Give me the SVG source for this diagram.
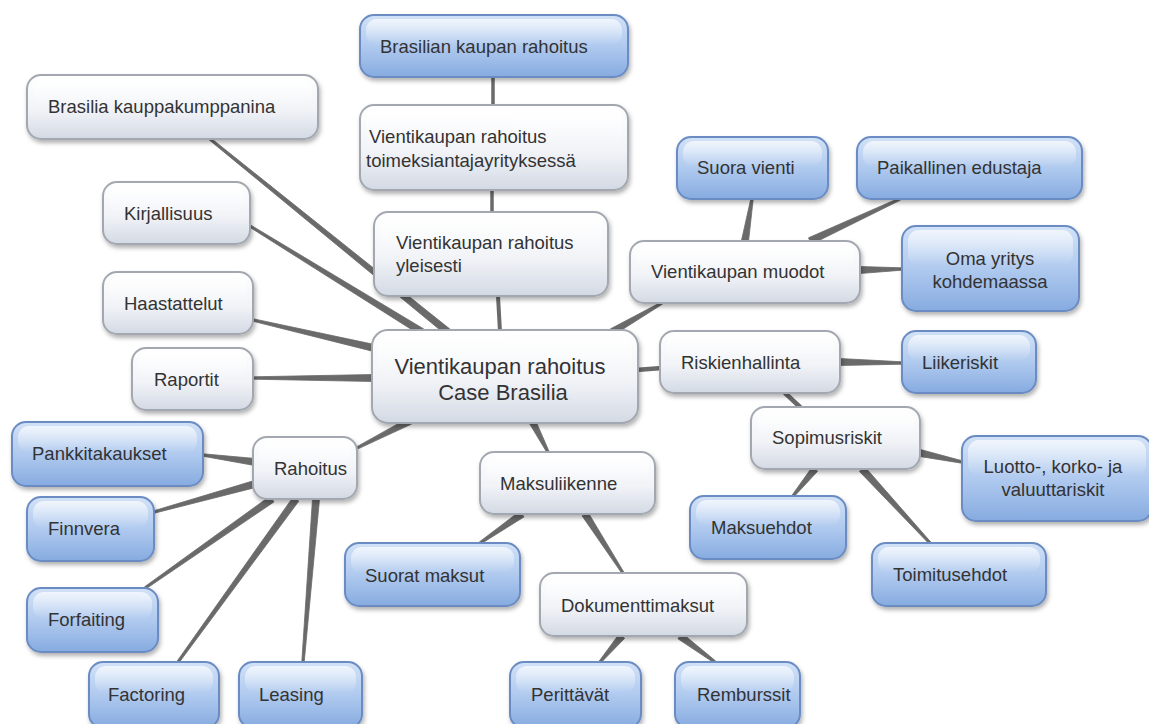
<svg xmlns="http://www.w3.org/2000/svg" width="1149" height="724" viewBox="0 0 1149 724">
<defs>
<linearGradient id="gw" x1="0" y1="0" x2="0" y2="1">
<stop offset="0" stop-color="#ffffff"/><stop offset="0.55" stop-color="#f1f3f7"/><stop offset="1" stop-color="#d3d9e4"/>
</linearGradient>
<linearGradient id="gb" x1="0" y1="0" x2="0" y2="1">
<stop offset="0" stop-color="#d2e2f7"/><stop offset="0.5" stop-color="#b0caef"/><stop offset="1" stop-color="#86abe0"/>
</linearGradient>
<linearGradient id="gh" x1="0" y1="0" x2="0" y2="1">
<stop offset="0" stop-color="#ffffff" stop-opacity="0.7"/><stop offset="1" stop-color="#ffffff" stop-opacity="0"/>
</linearGradient>
<filter id="sh" x="-10%" y="-10%" width="125%" height="135%">
<feDropShadow dx="1.5" dy="3" stdDeviation="2" flood-color="#000" flood-opacity="0.3"/>
</filter>
<style>
.w{fill:url(#gw);stroke:#a3a8b0;stroke-width:2;filter:url(#sh)}
.b{fill:url(#gb);stroke:#6a8cc2;stroke-width:2;filter:url(#sh)}
.h{fill:url(#gh);stroke:none}
.t{font-family:"Liberation Sans",Arial,sans-serif;font-size:18.5px;fill:#333}
.tc{font-family:"Liberation Sans",Arial,sans-serif;font-size:22px;fill:#333;text-anchor:middle}
.m{text-anchor:middle}
.c line{stroke:#6a6a6a;stroke-width:4;stroke-linecap:round}
.c polygon{fill:#6a6a6a;stroke:#6a6a6a;stroke-width:0.8;stroke-linejoin:round}
</style>
</defs>
<rect width="1149" height="724" fill="#ffffff"/>
<g id="connectors" class="c">
<line x1="493" y1="77" x2="493" y2="105" style="stroke-width:3.5"/>
<line x1="492" y1="190" x2="492" y2="212" style="stroke-width:3.5"/>
<line x1="498" y1="296" x2="500" y2="332" style="stroke-width:4"/>
<polygon points="450.2,329.3 210.8,138.1 209.2,139.9 445.8,334.7"/>
<polygon points="423.8,329.0 250.6,225.0 249.4,227.0 420.2,335.0"/>
<polygon points="374.8,344.6 253.3,318.8 252.7,321.2 373.2,351.4"/>
<polygon points="374,374.5 253,376.8 253,379.2 374,381.5"/>
<polygon points="613.8,335.0 662.6,304.0 661.4,302.0 610.2,329.0"/>
<line x1="662" y1="368" x2="636" y2="370" style="stroke-width:4.5"/>
<polygon points="408.4,417.9 356.5,446.9 357.5,449.1 411.6,424.1"/>
<polygon points="528.9,422.6 546.9,452.5 549.1,451.5 535.1,419.4"/>
<polygon points="748.5,241.6 753.2,199.2 750.8,198.8 741.5,240.4"/>
<polygon points="811.5,244.2 900.5,200.1 899.5,197.9 808.5,237.8"/>
<polygon points="860,266.5 902,267.8 902,270.2 860,273.5"/>
<polygon points="840,358.5 902,361.8 902,364.2 840,365.5"/>
<line x1="785" y1="393" x2="800" y2="407" style="stroke-width:4.5"/>
<polygon points="919.3,456.4 961.7,463.2 962.3,460.8 920.7,449.6"/>
<polygon points="812.3,466.8 792.1,495.2 793.9,496.8 817.7,471.2"/>
<polygon points="859.4,471.4 929.1,543.8 930.9,542.2 864.6,466.6"/>
<polygon points="255.5,458.5 203.2,453.8 202.8,456.2 254.5,465.5"/>
<polygon points="254.1,480.6 153.7,510.8 154.3,513.2 255.9,487.4"/>
<polygon points="270.0,496.1 144.3,587.0 145.7,589.0 274.0,501.9"/>
<polygon points="293.2,496.9 177.0,661.3 179.0,662.7 298.8,501.1"/>
<polygon points="312.5,498.7 301.8,661.9 304.2,662.1 319.5,499.3"/>
<polygon points="520.0,511.1 479.3,542.0 480.7,544.0 524.0,516.9"/>
<polygon points="582.1,515.9 622.0,573.6 624.0,572.4 587.9,512.1"/>
<polygon points="619.3,633.7 599.1,661.2 600.9,662.8 624.7,638.3"/>
<polygon points="677.9,638.8 714.3,663.0 715.7,661.0 682.1,633.2"/>
</g>
<g id="n-brasilian"><rect class="b" x="360" y="15" width="268" height="62" rx="14"/><rect class="h" x="366" y="19" width="256" height="26" rx="11"/><text class="t" x="380" y="53">Brasilian kaupan rahoitus</text></g>
<g id="n-kauppakumppanina"><rect class="w" x="27" y="75" width="291" height="64" rx="14"/><rect class="h" x="33" y="79" width="279" height="27" rx="11"/><text class="t" x="48" y="113">Brasilia kauppakumppanina</text></g>
<g id="n-toimeksianto"><rect class="w" x="360" y="105" width="268" height="85" rx="14"/><rect class="h" x="366" y="109" width="256" height="36" rx="11"/><text class="t" x="369" y="143">Vientikaupan rahoitus</text><text class="t" x="366" y="167">toimeksiantajayrityksessä</text></g>
<g id="n-kirjallisuus"><rect class="w" x="103" y="182" width="147" height="62" rx="14"/><rect class="h" x="109" y="186" width="135" height="26" rx="11"/><text class="t" x="124" y="220">Kirjallisuus</text></g>
<g id="n-yleisesti"><rect class="w" x="374" y="212" width="234" height="84" rx="14"/><rect class="h" x="380" y="216" width="222" height="36" rx="11"/><text class="t" x="396" y="249">Vientikaupan rahoitus</text><text class="t" x="396" y="272">yleisesti</text></g>
<g id="n-haastattelut"><rect class="w" x="103" y="272" width="150" height="62" rx="14"/><rect class="h" x="109" y="276" width="138" height="26" rx="11"/><text class="t" x="124" y="310">Haastattelut</text></g>
<g id="n-raportit"><rect class="w" x="132" y="348" width="121" height="62" rx="14"/><rect class="h" x="138" y="352" width="109" height="26" rx="11"/><text class="t" x="154" y="386">Raportit</text></g>
<g id="n-central"><rect class="w" x="372" y="330" width="266" height="93" rx="16"/><rect class="h" x="378" y="334" width="254" height="40" rx="12"/><text class="tc" x="500" y="374">Vientikaupan rahoitus</text><text class="tc" x="503" y="400">Case Brasilia</text></g>
<g id="n-muodot"><rect class="w" x="630" y="241" width="230" height="62" rx="14"/><rect class="h" x="636" y="245" width="218" height="26" rx="11"/><text class="t" x="651" y="278">Vientikaupan muodot</text></g>
<g id="n-suora"><rect class="b" x="677" y="137" width="151" height="62" rx="14"/><rect class="h" x="683" y="141" width="139" height="26" rx="11"/><text class="t" x="697" y="174">Suora vienti</text></g>
<g id="n-paikallinen"><rect class="b" x="857" y="137" width="225" height="62" rx="14"/><rect class="h" x="863" y="141" width="213" height="26" rx="11"/><text class="t" x="877" y="174">Paikallinen edustaja</text></g>
<g id="n-oma"><rect class="b" x="902" y="226" width="177" height="85" rx="14"/><rect class="h" x="908" y="230" width="165" height="36" rx="11"/><text class="t m" x="990" y="265">Oma yritys</text><text class="t m" x="990" y="288">kohdemaassa</text></g>
<g id="n-riskienhallinta"><rect class="w" x="660" y="331" width="180" height="62" rx="14"/><rect class="h" x="666" y="335" width="168" height="26" rx="11"/><text class="t" x="681" y="369">Riskienhallinta</text></g>
<g id="n-liikeriskit"><rect class="b" x="902" y="331" width="134" height="62" rx="14"/><rect class="h" x="908" y="335" width="122" height="26" rx="11"/><text class="t" x="922" y="369">Liikeriskit</text></g>
<g id="n-sopimusriskit"><rect class="w" x="751" y="407" width="169" height="62" rx="14"/><rect class="h" x="757" y="411" width="157" height="26" rx="11"/><text class="t" x="772" y="444">Sopimusriskit</text></g>
<g id="n-luotto"><rect class="b" x="962" y="436" width="190" height="85" rx="14"/><rect class="h" x="968" y="440" width="178" height="36" rx="11"/><text class="t m" x="1053" y="473">Luotto-, korko- ja</text><text class="t m" x="1053" y="496">valuuttariskit</text></g>
<g id="n-maksuehdot"><rect class="b" x="690" y="496" width="156" height="63" rx="14"/><rect class="h" x="696" y="500" width="144" height="26" rx="11"/><text class="t" x="711" y="534">Maksuehdot</text></g>
<g id="n-toimitusehdot"><rect class="b" x="872" y="543" width="174" height="63" rx="14"/><rect class="h" x="878" y="547" width="162" height="26" rx="11"/><text class="t" x="893" y="581">Toimitusehdot</text></g>
<g id="n-rahoitus"><rect class="w" x="253" y="437" width="104" height="62" rx="14"/><rect class="h" x="259" y="441" width="92" height="26" rx="11"/><text class="t" x="274" y="475">Rahoitus</text></g>
<g id="n-pankkitakaukset"><rect class="b" x="12" y="422" width="191" height="64" rx="14"/><rect class="h" x="18" y="426" width="179" height="27" rx="11"/><text class="t" x="32" y="460">Pankkitakaukset</text></g>
<g id="n-finnvera"><rect class="b" x="27" y="497" width="127" height="64" rx="14"/><rect class="h" x="33" y="501" width="115" height="27" rx="11"/><text class="t" x="48" y="535">Finnvera</text></g>
<g id="n-forfaiting"><rect class="b" x="27" y="588" width="131" height="64" rx="14"/><rect class="h" x="33" y="592" width="119" height="27" rx="11"/><text class="t" x="48" y="626">Forfaiting</text></g>
<g id="n-factoring"><rect class="b" x="89" y="662" width="130" height="66" rx="14"/><rect class="h" x="95" y="666" width="118" height="27" rx="11"/><text class="t" x="108" y="701">Factoring</text></g>
<g id="n-leasing"><rect class="b" x="239" y="662" width="123" height="66" rx="14"/><rect class="h" x="245" y="666" width="111" height="27" rx="11"/><text class="t" x="259" y="701">Leasing</text></g>
<g id="n-maksuliikenne"><rect class="w" x="480" y="452" width="175" height="62" rx="14"/><rect class="h" x="486" y="456" width="163" height="26" rx="11"/><text class="t" x="500" y="490">Maksuliikenne</text></g>
<g id="n-suorat"><rect class="b" x="345" y="543" width="175" height="63" rx="14"/><rect class="h" x="351" y="547" width="163" height="26" rx="11"/><text class="t" x="365" y="582">Suorat maksut</text></g>
<g id="n-dokumentti"><rect class="w" x="540" y="573" width="207" height="63" rx="14"/><rect class="h" x="546" y="577" width="195" height="26" rx="11"/><text class="t" x="561" y="612">Dokumenttimaksut</text></g>
<g id="n-perittavat"><rect class="b" x="510" y="662" width="131" height="66" rx="14"/><rect class="h" x="516" y="666" width="119" height="27" rx="11"/><text class="t" x="531" y="701">Perittävät</text></g>
<g id="n-remburssit"><rect class="b" x="675" y="662" width="125" height="66" rx="14"/><rect class="h" x="681" y="666" width="113" height="27" rx="11"/><text class="t" x="697" y="701">Remburssit</text></g>
</svg>
